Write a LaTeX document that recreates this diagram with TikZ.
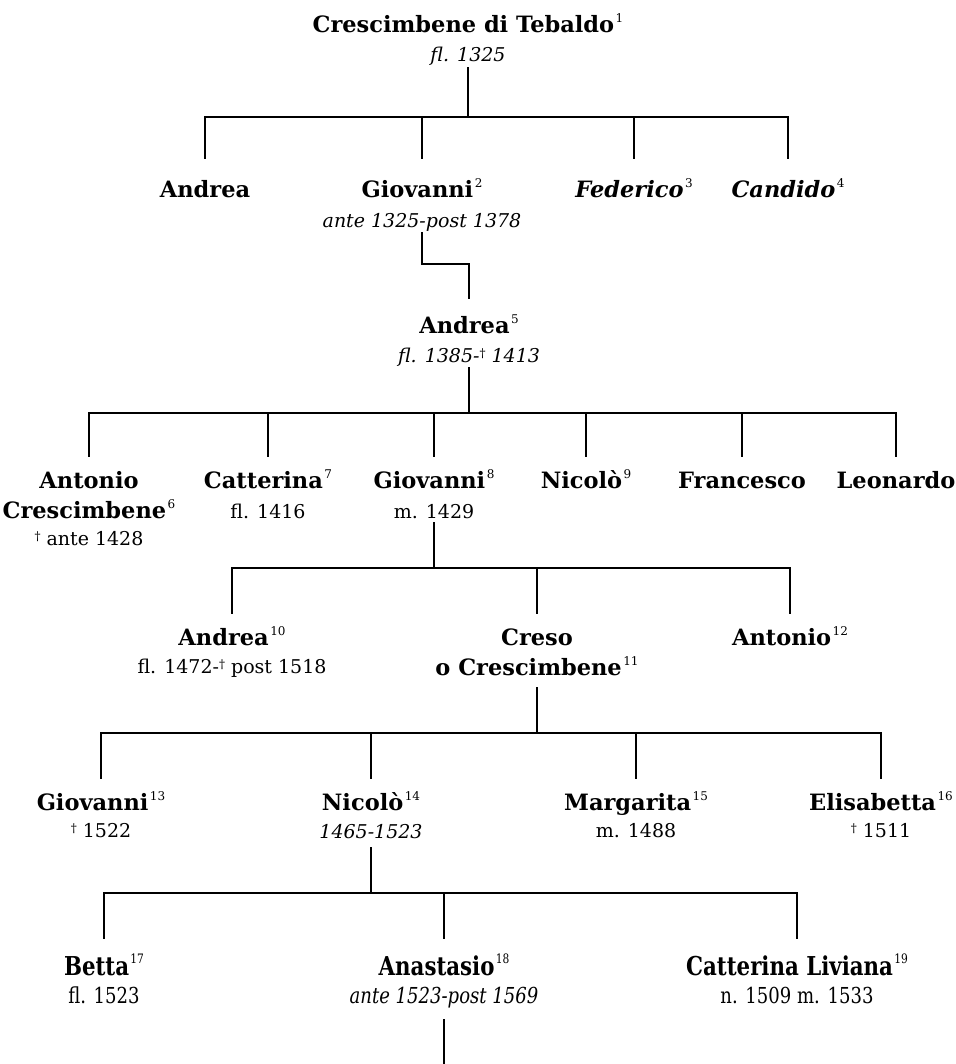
\documentclass[tikz,border=0pt]{standalone}
\usepackage{fontspec}
\setmainfont{DejaVu Serif}
\newcommand\sx[1]{\hspace{1.5pt}\raisebox{10pt}{\normalfont\fontsize{12}{12}\selectfont #1}}
\newcommand\dg{\raisebox{5pt}{\normalfont\fontsize{12}{12}\selectfont †}}
\newcommand\sxb[1]{\hspace{1.5pt}\raisebox{12pt}{\normalfont\fontsize{13}{13}\selectfont #1}}
\tikzset{
  nm/.style={font=\fontsize{22.5}{24}\selectfont\bfseries, anchor=base, inner sep=0pt, text height=17pt, text depth=0pt},
  nmi/.style={nm, font=\fontsize{22.5}{24}\selectfont\bfseries\itshape},
  dt/.style={font=\fontsize{19}{20}\selectfont, anchor=base, inner sep=0pt, text height=13pt, text depth=5pt},
  dti/.style={dt, font=\fontsize{19}{20}\selectfont\itshape},
  nml/.style={font=\fontsize{26}{27}\selectfont\bfseries, anchor=base, inner sep=0pt, text height=17pt, text depth=0pt},
  dtl/.style={font=\fontsize{22}{23}\selectfont, anchor=base, inner sep=0pt, text height=13pt, text depth=5pt},
  ln/.style={line width=2pt, line cap=rect},
}
\begin{document}
\begin{tikzpicture}[x=1pt,y=-1pt]
\useasboundingbox (0,0) rectangle (955,1064);
% row 0
\node[nm] (teb) at (468,33) {Crescimbene di Tebaldo\sx{1}};
\node[dti] (tebd) at (468,62) {fl. 1325};
% row 1
\node[nm] (and1) at (205,198) {Andrea};
\node[nm] (gio2) at (422,198) {Giovanni\sx{2}};
\node[dti] (gio2d) at (422,228) {ante 1325-post 1378};
\node[nmi] (fed) at (634,198) {Federico\sx{3}};
\node[nmi] (can) at (788,198) {Candido\sx{4}};
% row 2
\node[nm] (and5) at (469,333) {Andrea\sx{5}};
\node[dti] (and5d) at (469,362) {fl. 1385-\dg{} 1413};
% row 3
\node[nm] (ant6) at (89,488) {Antonio};
\node[nm] (ant6b) at (89,518) {Crescimbene\sx{6}};
\node[dt] (ant6d) at (89,545) {\dg{} ante 1428};
\node[nm] (cat7) at (268,488) {Catterina\sx{7}};
\node[dt] (cat7d) at (268,518) {fl. 1416};
\node[nm] (gio8) at (434,488) {Giovanni\sx{8}};
\node[dt] (gio8d) at (434,518) {m. 1429};
\node[nm] (nic9) at (586,488) {Nicolò\sx{9}};
\node[nm] (fra) at (742,488) {Francesco};
\node[nm] (leo) at (896,488) {Leonardo};
% row 4
\node[nm] (and10) at (232,645) {Andrea\sx{10}};
\node[dt] (and10d) at (232,673) {fl. 1472-\dg{} post 1518};
\node[nm] (cre) at (537,645) {Creso};
\node[nm] (creb) at (537,675) {o Crescimbene\sx{11}};
\node[nm] (ant12) at (790,645) {Antonio\sx{12}};
% row 5
\node[nm] (gio13) at (101,810) {Giovanni\sx{13}};
\node[dt] (gio13d) at (101,837) {\dg{} 1522};
\node[nm] (nic14) at (371,810) {Nicolò\sx{14}};
\node[dti] (nic14d) at (371,838) {1465-1523};
\node[nm] (mar15) at (636,810) {Margarita\sx{15}};
\node[dt] (mar15d) at (636,837) {m. 1488};
\node[nm] (eli16) at (881,810) {Elisabetta\sx{16}};
\node[dt] (eli16d) at (881,837) {\dg{} 1511};
% row 6
\node[nml] (bet17) at (104,975) {\scalebox{0.82}[1]{Betta\sxb{17}}};
\node[dtl] (bet17d) at (104,1003) {\scalebox{0.82}[1]{fl. 1523}};
\node[nml] (ana18) at (444,975) {\scalebox{0.82}[1]{Anastasio\sxb{18}}};
\node[dtl] (ana18d) at (444,1003) {\scalebox{0.82}[1]{\itshape ante 1523-post 1569}};
\node[nml] (cat19) at (797,975) {\scalebox{0.82}[1]{Catterina Liviana\sxb{19}}};
\node[dtl] (cat19d) at (797,1003) {\scalebox{0.82}[1]{n. 1509 m. 1533}};
\coordinate (end) at (444,1064);

% bars
\coordinate (b1) at (0,117);
\coordinate (b2) at (0,264);
\coordinate (b3) at (0,413);
\coordinate (b4) at (0,568);
\coordinate (b5) at (0,733);
\coordinate (b6) at (0,893);

% family 1
\draw[ln, shorten <=1pt] (tebd.south) -- (tebd.south |- b1);
\draw[ln] (b1 -| and1) -- (b1 -| can);
\foreach \c in {and1,gio2,fed,can}
  \draw[ln, shorten >=23pt] (b1 -| \c.north) -- (\c.north);
% Giovanni -> Andrea
\draw[ln, shorten >=18pt] (gio2d.south) -- (gio2d.south |- b2) -| (and5.north);
% family 3
\draw[ln, shorten <=1pt] (and5d.south) -- (and5d.south |- b3);
\draw[ln] (b3 -| ant6) -- (b3 -| leo);
\foreach \c in {ant6,cat7,gio8,nic9,fra,leo}
  \draw[ln, shorten >=15pt] (b3 -| \c.north) -- (\c.north);
% family 4
\draw[ln] (gio8d.south) -- (gio8d.south |- b4);
\draw[ln] (b4 -| and10) -- (b4 -| ant12);
\foreach \c in {and10,cre,ant12}
  \draw[ln, shorten >=15pt] (b4 -| \c.north) -- (\c.north);
% family 5
\draw[ln, shorten <=13pt] (creb.south) -- (creb.south |- b5);
\draw[ln] (b5 -| gio13) -- (b5 -| eli16);
\foreach \c in {gio13,nic14,mar15,eli16}
  \draw[ln, shorten >=15pt] (b5 -| \c.north) -- (\c.north);
% family 6
\draw[ln, shorten <=5pt] (nic14d.south) -- (nic14d.south |- b6);
\draw[ln] (b6 -| bet17) -- (b6 -| cat19);
\foreach \c in {bet17,ana18,cat19}
  \draw[ln, shorten >=20pt] (b6 -| \c.north) -- (\c.north);
% Anastasio down
\draw[ln, shorten <=12pt] (ana18d.south) -- (end);
\end{tikzpicture}
\end{document}
